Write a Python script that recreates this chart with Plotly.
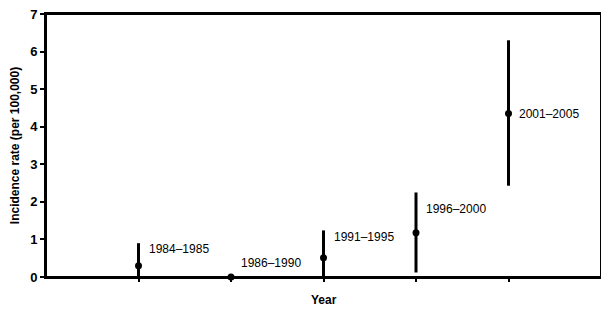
import plotly.graph_objects as go

periods = ["1984–1985", "1986–1990", "1991–1995", "1996–2000", "2001–2005"]
positions = [1, 2, 3, 4, 5]
rates = [0.30, 0.0, 0.51, 1.18, 4.35]
upper = [0.90, 0.0, 1.24, 2.25, 6.30]
lower = [0.0, 0.0, 0.0, 0.12, 2.43]
label_y = [0.74, 0.37, 1.06, 1.82, 4.35]
y_ticks = [0, 1, 2, 3, 4, 5, 6, 7]

err_plus = [u - r for u, r in zip(upper, rates)]
err_minus = [r - l for r, l in zip(rates, lower)]

fig = go.Figure()
fig.add_trace(go.Scatter(
    x=positions, y=rates, mode="markers",
    marker=dict(symbol="circle", size=7, color="black"),
    error_y=dict(type="data", symmetric=False, array=err_plus, arrayminus=err_minus,
                 color="black", thickness=3, width=0),
    showlegend=False, cliponaxis=False,
))

for x, y, t in zip(positions, label_y, periods):
    fig.add_annotation(x=x, y=y, text=t, showarrow=False, xanchor="left",
                       xshift=8, font=dict(family="Liberation Sans, Arial", size=12, color="black"))

# the page body adds an 8px offset; figure size and margins compensate
fig.update_layout(
    width=594, height=302,
    margin=dict(l=38, r=1, t=6, b=33),
    paper_bgcolor="white", plot_bgcolor="white",
    font=dict(family="Liberation Sans, Arial", color="black"),
)
fig.add_shape(type="rect", xref="paper", yref="paper", x0=0, x1=1, y0=0, y1=1,
              line=dict(color="black", width=2), layer="above")
fig.add_annotation(xref="paper", yref="paper", x=0.5, y=0, yshift=-23, yanchor="middle",
                   text="<b>Year</b>", showarrow=False, font=dict(size=12))
fig.update_xaxes(range=[0, 6], tickvals=positions, ticktext=[""] * 5, ticks="outside",
                 ticklen=3, tickwidth=2, tickcolor="black", automargin=False,
                 showgrid=False, zeroline=False, showline=True, linecolor="black",
                 linewidth=2, mirror=True)
fig.update_yaxes(range=[0, 7], tickvals=y_ticks, ticks="outside", ticklen=4, tickwidth=2,
                 tickcolor="black", showgrid=False, zeroline=False, showline=True,
                 linecolor="black", linewidth=2, mirror=True, automargin=False,
                 ticklabeloverflow="allow",
                 tickfont=dict(size=13, family="Liberation Sans, Arial", weight="bold"),
                 title=dict(text="<b>Incidence rate (per 100,000)</b>", font=dict(size=12), standoff=8))

fig.write_html("out.html")
